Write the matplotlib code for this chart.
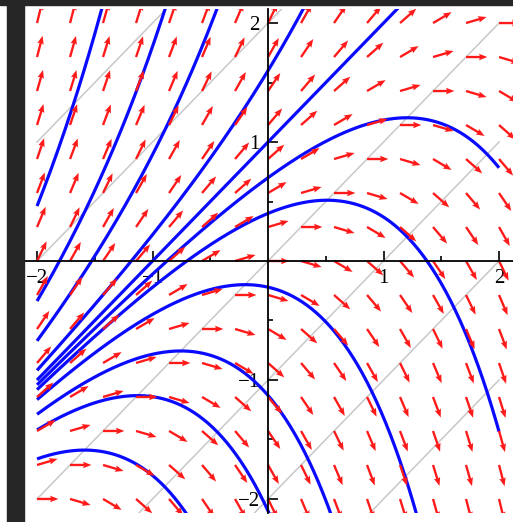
import numpy as np
import matplotlib.pyplot as plt
from matplotlib.patches import Rectangle

# slope field of y' = y - x, solutions y = x + 1 + C*exp(x)
curve_C = [10.8, 4.9, 2.43, 0.6, 0.0, -0.3, -0.6, -1.22, -2.13, -3.1, -4.9]
isocline_k = [-3, -2, -1, 0, 1, 2, 3]
grid_vals = np.linspace(-2, 2, 15)
tick_major = [-2, -1, 1, 2]
tick_labels = ["\u22122", "\u22121", "1", "2"]
tick_minor = [-1.5, -0.5, 0.5, 1.5]

W, H = 513, 522
fig = plt.figure(figsize=(W / 100, H / 100), dpi=100)
fig.patch.set_facecolor("white")

# dark frame strips of the screenshot
fig.patches.append(Rectangle((7 / W, 0), 17 / W, 1, transform=fig.transFigure,
                             color="#262626", zorder=0))
fig.patches.append(Rectangle((0, 1 - 5 / H), 1, 5 / H, transform=fig.transFigure,
                             color="#262626", zorder=0))

ax = fig.add_axes([24 / W, 9 / H, 489 / W, 504 / H])
ax.set_xlim(-2.113, 2.121)
ax.set_ylim(-2.118, 2.118)
ax.patch.set_alpha(0)


def slope(x, y):
    return y - x


xs = np.linspace(-2, 2, 400)
for k in isocline_k:
    ax.plot(xs, xs + k, color="#c8c8c8", lw=1.1, zorder=1)

for C in curve_C:
    ax.plot(xs, xs + 1 + C * np.exp(xs), color="#0a0aff", lw=2.3, zorder=2,
            solid_capstyle="butt")

X, Y = np.meshgrid(grid_vals, grid_vals)
S = slope(X, Y)
L = 0.185
norm = np.sqrt(1 + S ** 2)
U, V = L / norm, L * S / norm
ax.quiver(X, Y, U, V, angles="xy", scale_units="xy", scale=1, color="#ff1a1a",
          width=0.0048, headwidth=2.8, headlength=3.6, headaxislength=3.2,
          pivot="tail", zorder=3)

for side in ["top", "right"]:
    ax.spines[side].set_visible(False)
ax.spines["left"].set_position("zero")
ax.spines["bottom"].set_position("zero")
for side in ["left", "bottom"]:
    ax.spines[side].set_linewidth(1.3)
    ax.spines[side].set_zorder(4)

ax.set_xticks(tick_major)
ax.set_xticklabels(tick_labels)
ax.set_yticks(tick_major)
ax.set_yticklabels(tick_labels)
ax.set_xticks(tick_minor, minor=True)
ax.set_yticks(tick_minor, minor=True)
ax.tick_params(which="major", direction="in", length=7, width=1.2, pad=6,
               labelsize=15)
ax.tick_params(which="minor", direction="in", length=3.5, width=1.2)
for lab in ax.get_xticklabels() + ax.get_yticklabels():
    lab.set_fontfamily("Liberation Serif")

fig.savefig("out.png", dpi=100)
